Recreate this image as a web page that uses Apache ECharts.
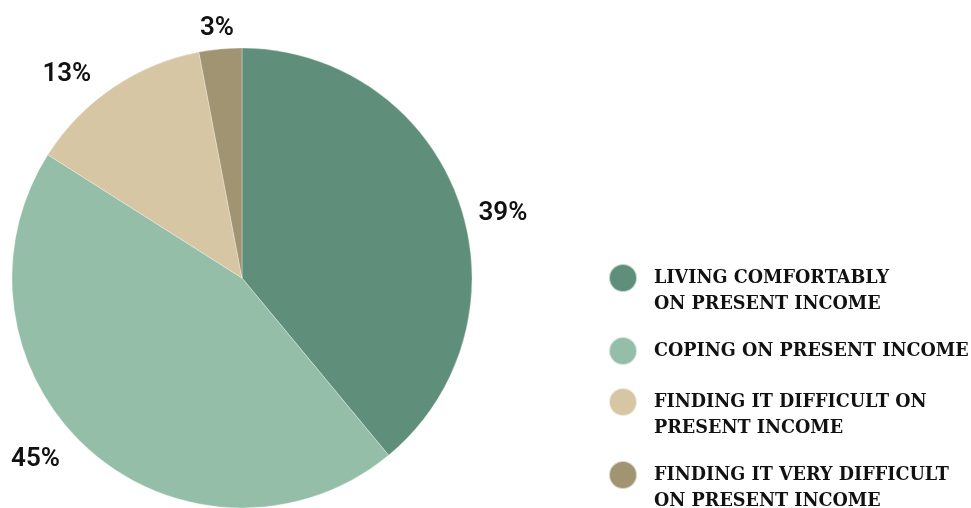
<!DOCTYPE html>
<html>
<head>
<meta charset="utf-8">
<script src="https://cdn.jsdelivr.net/npm/echarts@6/dist/echarts.min.js"></script>
<style>
html,body{margin:0;padding:0;background:#fff;}
#chart{width:971px;height:508px;}
</style>
</head>
<body>
<div id="chart"></div>
<script>
var categories = [
  "LIVING COMFORTABLY\nON PRESENT INCOME",
  "COPING ON PRESENT INCOME",
  "FINDING IT DIFFICULT ON\nPRESENT INCOME",
  "FINDING IT VERY DIFFICULT\nON PRESENT INCOME"
];
var values = [39, 45, 13, 3];
var colors = ["#5f8f7a", "#95bea8", "#d6c6a3", "#a09473"];

var legendCenters = [277, 349, 401, 474];
var labelNudges = [[-7, 18], [-7, -2], [0, -1], [28, -6]];

var chart = echarts.init(document.getElementById('chart'), null, {renderer: 'canvas'});

var legends = categories.map(function (name, i) {
  var twoLine = name.indexOf('\n') >= 0;
  return {
    data: [name],
    orient: 'vertical',
    left: 608,
    top: legendCenters[i] - (twoLine ? 39 : 14) + 1,
    padding: 0,
    icon: 'circle',
    itemWidth: 28,
    itemHeight: 28,
    itemGap: 0,
    selectedMode: false,
    formatter: function (n) { return n.indexOf('\n') >= 0 ? '\n' + n : n; },
    textStyle: {
      fontFamily: 'DejaVu Serif',
      fontWeight: 'bold',
      fontSize: 17.6,
      lineHeight: 26,
      color: '#111',
      padding: [0, 0, 0, 12]
    }
  };
});

chart.setOption({
  animation: false,
  color: colors,
  legend: legends,
  series: [{
    type: 'pie',
    center: [242, 278],
    radius: 230,
    startAngle: 90,
    clockwise: true,
    avoidLabelOverlap: false,
    data: categories.map(function (c, i) {
      return {name: c, value: values[i], label: {offset: labelNudges[i]}};
    }),
    itemStyle: {borderColor: 'rgba(255,255,255,0.6)', borderWidth: 0.5},
    label: {
      show: true,
      position: 'outside',
      formatter: '{c}%',
      fontFamily: 'Roboto',
      fontWeight: 600,
      fontSize: 26,
      color: '#111'
    },
    labelLine: {show: false, length: 15, length2: 8},
    emphasis: {disabled: true}
  }]
});
</script>
</body>
</html>
